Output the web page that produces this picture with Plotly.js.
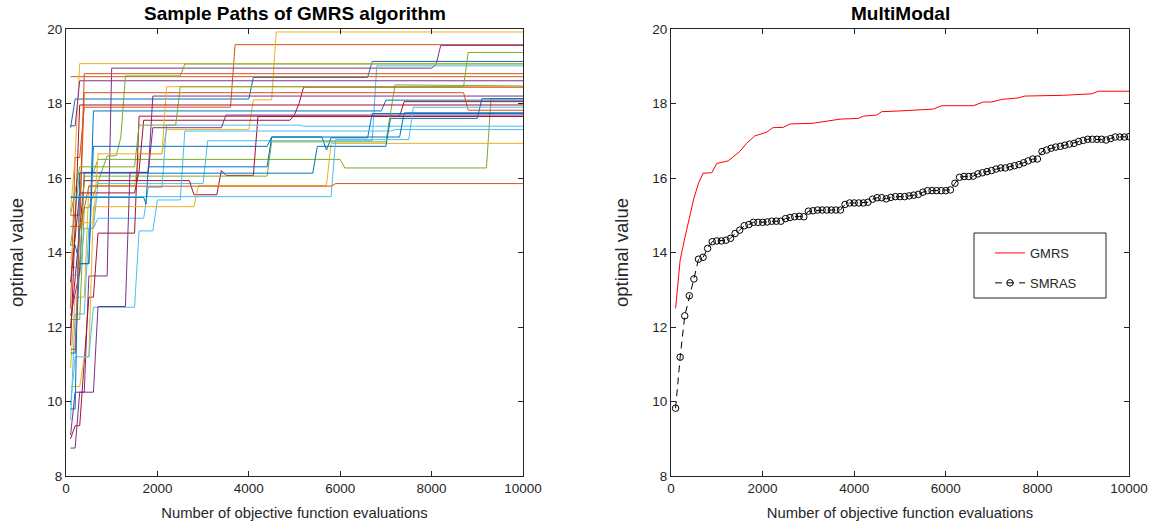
<!DOCTYPE html>
<html>
<head>
<meta charset="utf-8">
<script src="https://cdn.plot.ly/plotly-3.0.1.min.js"></script>
<style>html,body{margin:0;padding:0;background:#fff}#chart{width:1162px;height:525px}</style>
</head>
<body>
<div id="chart"></div>
<script>
// ---------- Left panel: sample paths of GMRS (breakpoints [evaluations, value]) ----------
const Y1 = [[100,10.9],[200,12.8],[400,12.8],[500,15.8],[1500,15.8],[1600,16.65],[2100,16.65],[2200,17.3],[4000,17.3],[4100,18.1],[4500,18.1],[4600,19.92],[10000,19.92]];
const Y2 = [[100,15.1],[200,16.6],[300,19.07],[10000,19.07]];
const Y3 = [[100,10.4],[300,10.4],[400,11.2],[500,11.2],[600,15.23],[2800,15.23],[2900,15.8],[5700,15.8],[5800,16.93],[10000,16.93]];
const Y4 = [[100,13.8],[200,14.6],[300,14.8],[600,14.8],[700,16.65],[2100,16.65],[2200,18.45],[10000,18.45]];
const O1 = [[100,12.5],[200,16.55],[300,16.55],[400,17.9],[3600,17.9],[3700,19.58],[10000,19.58]];
const O2 = [[100,18.72],[10000,18.72]];
const O3 = [[100,15.0],[300,15.0],[400,18.8],[10000,18.8]];
const O4 = [[100,14.7],[300,14.7],[400,18.29],[8700,18.29],[8800,17.82],[10000,17.82]];
const O5 = [[100,11.4],[200,11.4],[300,14.6],[500,15.78],[5800,15.78],[5900,15.85],[10000,15.85]];
const P1 = [[100,9.1],[200,10.25],[400,10.25],[500,13.37],[900,13.37],[1000,18.95],[8000,18.95],[8100,19.05],[8200,19.56],[10000,19.56]];
const P2 = [[100,17.4],[200,17.4],[300,18.61],[10000,18.61]];
const P3 = [[100,12.3],[300,13.5],[400,16.15],[1800,16.15],[1900,18.2],[10000,18.2]];
const P4 = [[100,8.75],[200,8.75],[300,10.25],[600,10.25],[700,12.55],[1300,12.55],[1400,16.15],[1800,16.15],[1900,17.35],[3400,17.35],[3500,17.69],[10000,17.69]];
const G1 = [[100,14.2],[200,15.1],[300,16.15],[600,16.15],[700,16.5],[6000,16.5],[6100,16.27],[9200,16.27],[9300,18.13],[10000,18.13]];
const G2 = [[100,12.2],[300,12.2],[400,15.2],[500,15.2],[900,16.59],[1100,16.6],[1200,17.1],[1300,18.74],[2500,18.74],[2600,19.06],[10000,19.06]];
const G3 = [[100,13.6],[300,13.6],[400,16.05],[4400,16.05],[4500,16.97],[7000,16.97],[7200,18.5],[10000,18.47]];
const G4 = [[100,15.0],[300,16.3],[1500,16.3],[1600,17.42],[2400,17.42],[2500,18.45],[8700,18.45],[8800,19.37],[10000,19.37]];
const B1 = [[100,17.35],[200,18.12],[4000,18.12],[4100,18.7],[6600,18.7],[6700,19.13],[10000,19.13]];
const B2 = [[100,14.2],[200,14.2],[300,13.7],[500,13.7],[600,17.8],[6900,17.8],[7000,18.09],[10000,18.09]];
const B3 = [[100,11.3],[200,11.3],[300,13.7],[500,13.7],[600,16.85],[4400,16.85],[4500,17.1],[5600,17.1],[5700,16.75],[5800,17.08],[6600,17.08],[6700,17.73],[10000,17.73]];
const B4 = [[100,9.8],[200,9.8],[300,16.13],[5400,16.13],[5500,16.85],[7000,16.85],[7100,17.6],[9000,17.6],[9100,18.13],[10000,18.13]];
const B5 = [[100,15.48],[1700,15.48],[1750,15.3],[1800,16.3],[4400,16.3],[4500,17.1],[7300,17.1],[7400,17.75],[10000,17.75]];
const L1 = [[100,9.5],[200,12.35],[400,12.35],[500,14.65],[600,14.65],[700,15.85],[3000,15.85],[3100,17.0],[6700,17.0],[6800,19.01],[10000,19.01]];
const L2 = [[100,13.4],[300,13.4],[400,14.65],[600,14.65],[700,14.92],[1700,14.92],[1800,15.75],[2100,15.75],[2200,17.42],[5100,17.42],[5200,17.39],[10000,17.39]];
const L3 = [[100,9.9],[200,11.2],[500,11.2],[600,12.53],[1500,12.53],[1600,14.58],[1900,14.58],[2000,15.41],[2500,15.41],[2600,17.26],[7100,17.26],[7200,17.3],[10000,17.3]];
const L4 = [[100,15.5],[5800,15.5],[5900,17.03],[7500,17.03],[7600,17.9],[10000,17.9]];
const R1 = [[100,12.0],[300,14.7],[400,15.93],[2700,15.93],[2800,15.55],[3300,15.55],[3400,16.2],[3500,16.07],[4100,16.07],[4200,17.65],[10000,17.65]];
const R2 = [[100,9.0],[200,9.35],[300,9.35],[400,11.0],[500,12.8],[600,12.8],[700,14.52],[1500,14.52],[1600,17.66],[7300,17.66],[7400,18.05],[10000,18.05]];
const R3 = [[100,13.2],[300,15.6],[1500,15.6],[1600,16.2],[1700,17.55],[4900,17.55],[5000,17.7],[5100,18.0],[5200,18.44],[10000,18.44]];
const R4 = [[100,11.5],[200,15.0],[300,17.96],[10000,17.96]];

const BLUE = '#0072BD', ORANGE = '#D95319', YELLOW = '#EDB120', PURPLE = '#7E2F8E', GREEN = '#77AC30', LBLUE = '#4DBEEE', RED = '#A2142F';
const samplePaths = [
  [B1, BLUE], [O1, ORANGE], [Y1, YELLOW], [P1, PURPLE], [G1, GREEN], [L1, LBLUE], [R1, RED],
  [B2, BLUE], [O2, ORANGE], [Y2, YELLOW], [P2, PURPLE], [G2, GREEN], [L2, LBLUE], [R2, RED],
  [B3, BLUE], [O3, ORANGE], [Y3, YELLOW], [P3, PURPLE], [G3, GREEN], [L3, LBLUE], [R3, RED],
  [B4, BLUE], [O4, ORANGE], [Y4, YELLOW], [P4, PURPLE], [G4, GREEN], [L4, LBLUE], [R4, RED],
  [B5, BLUE], [O5, ORANGE]
];

// ---------- Right panel: MultiModal ----------
const gmrsX = [100,200,300,490,600,700,890,1000,1250,1500,1650,1830,2090,2220,2450,2600,3100,3540,3690,4090,4200,4490,4600,5000,5730,5910,6600,6820,7000,7220,7580,7730,8570,9190,9330,10000];
const gmrsY = [12.5,13.8,14.38,15.41,15.86,16.13,16.14,16.39,16.46,16.71,16.93,17.13,17.23,17.35,17.36,17.45,17.47,17.54,17.58,17.60,17.66,17.69,17.78,17.80,17.85,17.94,17.94,18.04,18.04,18.11,18.15,18.20,18.22,18.26,18.33,18.33];

const smrasX = [100,200,300,400,500,600,700,800,900,1000,1100,1200,1300,1400,1500,1600,1700,1800,1900,2000,
  2100,2200,2300,2400,2500,2600,2700,2800,2900,3000,3100,3200,3300,3400,3500,3600,3700,3800,3900,4000,
  4100,4200,4300,4400,4500,4600,4700,4800,4900,5000,5100,5200,5300,5400,5500,5600,5700,5800,5900,6000,
  6100,6200,6300,6400,6500,6600,6700,6800,6900,7000,7100,7200,7300,7400,7500,7600,7700,7800,7900,8000,
  8100,8200,8300,8400,8500,8600,8700,8800,8900,9000,9100,9200,9300,9400,9500,9600,9700,9800,9900,10000];
const smrasY = [9.82,11.19,12.30,12.84,13.29,13.82,13.87,14.11,14.29,14.31,14.31,14.33,14.38,14.51,14.60,14.72,14.75,14.81,14.81,14.81,
  14.82,14.84,14.84,14.84,14.91,14.94,14.96,14.97,14.96,15.11,15.12,15.14,15.14,15.14,15.14,15.14,15.14,15.29,15.33,15.33,
  15.33,15.33,15.35,15.43,15.47,15.47,15.44,15.48,15.50,15.50,15.50,15.52,15.54,15.56,15.62,15.66,15.66,15.66,15.66,15.66,
  15.68,15.86,16.02,16.04,16.04,16.05,16.11,16.14,16.17,16.20,16.24,16.27,16.27,16.30,16.33,16.36,16.41,16.46,16.51,16.51,
  16.71,16.75,16.80,16.83,16.85,16.88,16.91,16.93,16.98,17.01,17.04,17.04,17.04,17.04,17.02,17.06,17.10,17.10,17.10,17.11];

const xTicks = [0,2000,4000,6000,8000,10000];
const yTicks = [8,10,12,14,16,18,20];

const FONT = 'Liberation Sans, Arial, Helvetica, sans-serif';
const INK = '#262626';

const traces = samplePaths.map(([pts, col]) => ({
  x: pts.map(p => p[0]), y: pts.map(p => p[1]),
  type: 'scatter', mode: 'lines', xaxis: 'x', yaxis: 'y',
  line: {color: col, width: 1}, showlegend: false, hoverinfo: 'skip'
}));
traces.push({
  x: gmrsX, y: gmrsY, type: 'scatter', mode: 'lines', name: 'GMRS',
  xaxis: 'x2', yaxis: 'y2', legendgroup: 'g1',
  line: {color: '#FF0000', width: 1}
});
traces.push({
  x: smrasX, y: smrasY, type: 'scatter', mode: 'lines+markers', name: 'SMRAS',
  xaxis: 'x2', yaxis: 'y2', legendgroup: 'g2',
  line: {color: '#000000', width: 1, dash: '7px,5px'},
  marker: {symbol: 'circle-open', size: 6.5, color: '#000000', line: {width: 1, color: '#000000'}}
});

function xAxis(domain, anchor) {
  return {
    domain: domain, anchor: anchor, range: [0, 10000], tickvals: xTicks, ticktext: xTicks.map(String),
    ticks: 'inside', ticklen: 5, tickwidth: 1, tickcolor: INK, showline: true, linecolor: INK, linewidth: 1,
    mirror: 'ticks', showgrid: false, zeroline: false,
    tickfont: {family: FONT, size: 13.5, color: INK},
    title: {text: 'Number of objective function evaluations', font: {family: FONT, size: 14.8, color: INK}, standoff: 12}
  };
}
function yAxis(domain, anchor) {
  return {
    domain: domain, anchor: anchor, range: [8, 20], tickvals: yTicks, ticktext: yTicks.map(String),
    ticks: 'inside', ticklen: 5, tickwidth: 1, tickcolor: INK, showline: true, linecolor: INK, linewidth: 1,
    mirror: 'ticks', showgrid: false, zeroline: false,
    tickfont: {family: FONT, size: 13.5, color: INK},
    title: {text: 'optimal value', font: {family: FONT, size: 18.5, color: INK}, standoff: 18}
  };
}

const W = 1162, H = 525;
const yDom = [(H - 476) / H, (H - 29) / H];
const layout = {
  width: W, height: H, margin: {l: 0, r: 0, t: 0, b: 0},
  paper_bgcolor: '#ffffff', plot_bgcolor: '#ffffff',
  font: {family: FONT, color: INK},
  xaxis: xAxis([66 / W, 523 / W], 'y'),
  yaxis: yAxis(yDom, 'x'),
  xaxis2: xAxis([671 / W, 1129 / W], 'y2'),
  yaxis2: yAxis(yDom, 'x2'),
  showlegend: true,
  legend: {
    x: 990 / W, y: (H - 238) / H, xanchor: 'left', yanchor: 'top',
    bgcolor: 'rgba(0,0,0,0)', borderwidth: 0,
    font: {family: FONT, size: 13, color: INK},
    traceorder: 'grouped', tracegroupgap: 10
  },
  shapes: [{
    type: 'rect', xref: 'paper', yref: 'paper',
    x0: 974 / W, x1: 1106 / W, y0: (H - 298) / H, y1: (H - 233) / H,
    line: {color: INK, width: 1}, fillcolor: 'rgba(255,255,255,0)', layer: 'above'
  }],
  annotations: [
    {text: '<b>Sample Paths of GMRS algorithm</b>', xref: 'paper', yref: 'paper', x: (66 + 523) / 2 / W, y: (H - 14) / H,
     xanchor: 'center', yanchor: 'middle', showarrow: false, font: {family: FONT, size: 19, color: '#000'}},
    {text: '<b>MultiModal</b>', xref: 'paper', yref: 'paper', x: (671 + 1129) / 2 / W, y: (H - 14) / H,
     xanchor: 'center', yanchor: 'middle', showarrow: false, font: {family: FONT, size: 19, color: '#000'}}
  ]
};

Plotly.newPlot('chart', traces, layout, {staticPlot: true, displayModeBar: false});
</script>
</body>
</html>
